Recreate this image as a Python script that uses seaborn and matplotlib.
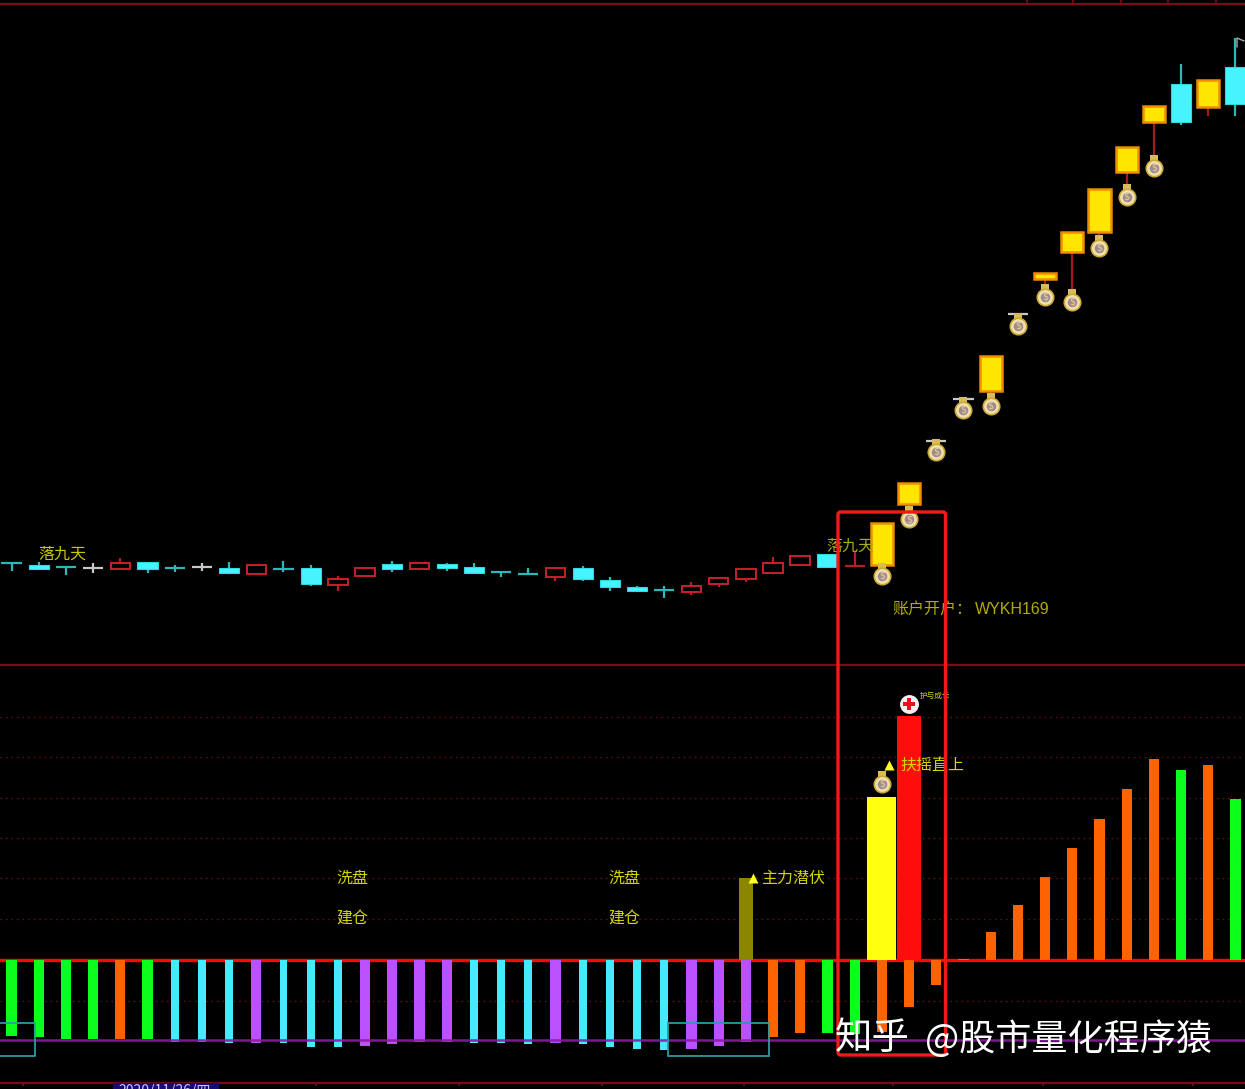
import matplotlib
matplotlib.use("Agg")

import matplotlib.pyplot as plt
import numpy as np
import pandas as pd
import seaborn as sns
from matplotlib.patches import FancyBboxPatch, Rectangle

# Candles, one per day
idx = list(range(46))
body_top = [102.3, 100.3, 98.3, 96.7, 101.7, 102.7, 96.7, 98.3, 97, 99.7, 96, 97, 86, 97, 101.3, 101.7,
            101, 98.3, 92.7, 91.3, 97, 97, 84.7, 78, 75, 79.3, 87.3, 95.7, 102.3, 109, 111, 99,
            141.7, 182.3, 224.3, 266.3, 309, 351, 392, 433, 476, 518, 558.7, 581, 584.7, 598.3]
body_bot = [102.3, 95.7, 98.3, 96.7, 96, 95.7, 96.7, 98.3, 92, 90.7, 96, 81, 80, 89.3, 96, 96,
            97, 91.7, 92.7, 91.3, 87.7, 86.3, 78, 74.3, 75, 72.7, 81, 86, 92, 100.3, 98.3, 99,
            100, 161, 224.3, 266.3, 274, 351, 385.7, 412.7, 433.3, 493, 543, 543, 558, 560.7]
high = [102.3, 103, 98.3, 101.7, 106.7, 102.7, 100, 102.3, 102.7, 99.7, 104.3, 100, 89, 98, 104, 101.7,
        102, 101.7, 94, 96.7, 97, 99, 88.3, 79, 79, 83.3, 87.3, 95.7, 108.3, 109, 111, 113.3,
        141.7, 182.3, 224.3, 266.3, 309, 351, 392, 433, 476, 518, 558.7, 601, 584.7, 627.3]
low = [94.3, 95, 90.3, 91.7, 96, 91.7, 93.5, 94.3, 92, 90.7, 93, 79.3, 74, 89.3, 93.3, 96,
       94.3, 91.7, 87.7, 90, 84, 84, 74, 74.3, 67, 70, 78.3, 83.3, 92, 100.3, 97, 99,
       97, 157, 220, 262, 272, 347, 380, 375, 430, 481, 510, 540, 549.3, 549.3]
candle_kind = ["cyan", "cyan", "cyan", "white", "red", "cyan", "cyan", "white", "cyan", "red", "cyan", "cyan",
               "red", "red", "cyan", "red", "cyan", "cyan", "cyan", "cyan", "red", "cyan", "cyan", "cyan",
               "cyan", "red", "red", "red", "red", "red", "cyan", "red", "gold", "gold", "white", "white",
               "gold", "white", "gold", "gold", "gold", "gold", "gold", "cyan", "gold", "cyan"]

# Money bags on the candles
bag_i = [32, 33, 34, 35, 36, 37, 38, 39, 40, 41, 42]
bag_y = [89, 146, 213.3, 255, 259.3, 339, 368.3, 363, 417, 468.3, 497]

# Lower panel
down_values = [-76, -77.3, -79, -79, -79, -79, -81.7, -81.7, -83.3, -83.3, -83.3, -87, -87, -85.7, -84.3,
               -81.7, -81.7, -83.3, -83.3, -84.3, -83.3, -84.3, -87, -89.3, -89.7, -88.7, -85.7, -81.7,
               -77.3, -73.3, -73.3, -74, -72, -46.7, -25]
down_kind = ["green", "green", "green", "green", "orange", "green", "cyan", "cyan", "cyan", "purple", "cyan",
             "cyan", "cyan", "purple", "purple", "purple", "purple", "cyan", "cyan", "cyan", "purple", "cyan",
             "cyan", "cyan", "cyan", "purple", "purple", "purple", "orange", "orange", "green", "green",
             "orange", "orange", "orange"]
up_i = [27, 32, 33, 35, 36, 37, 38, 39, 40, 41, 42, 43, 44, 45]
up_values = [82, 163, 244, 1.5, 28, 55, 83.3, 112.3, 140.7, 170.7, 200.7, 189.7, 195, 161]
up_kind = ["olive", "yellow", "red", "orange", "orange", "orange", "orange", "orange", "orange", "orange",
           "orange", "green", "orange", "green"]
grid_levels = [243.3, 203, 162.3, 122.3, 82, 41.3, -40.7]
purple_level = -80

bar_colors = {"green": "#0cff1c", "orange": "#ff6200", "cyan": "#46eaff", "purple": "#ba50ff",
              "olive": "#8a8600", "yellow": "#ffff10", "red": "#ff0c0c"}
bar_widths = {"green": 0.37, "orange": 0.37, "cyan": 0.28, "purple": 0.37,
              "olive": 0.52, "yellow": 1.07, "red": 0.86}
candle_wick = {"cyan": "#2ab8b8", "white": "#c8c8c8", "red": "#b81c28", "gold": "#a81818"}

sns.set_theme(style="white", rc={"figure.facecolor": "black", "axes.facecolor": "black"})
cjk = ["Noto Sans CJK SC", "DejaVu Sans"]
plt.rcParams["font.family"] = cjk

W, H = 1245, 1089
XLIM = (-0.423, 45.35)
fig = plt.figure(figsize=(W / 100, H / 100), dpi=100)
ax_low = fig.add_axes([0, 0, 1, 424 / H])
ax_top = fig.add_axes([0, 424 / H, 1, 665 / H])
over = fig.add_axes([0, 0, 1, 1])
over.patch.set_alpha(0)


def draw_bag(ax, x, y):
    ax.scatter([x], [y + 9], s=30, marker="s", color="#d8bc58", zorder=6, linewidths=0)
    ax.scatter([x], [y], s=140, color="#efe3ad", edgecolors="#cda838", linewidths=1.2, zorder=7)
    ax.scatter([x], [y], s=48, color="#a08a90", linewidths=0, zorder=8)
    ax.text(x, y, r"\$", color="#e8d090", fontsize=7, ha="center", va="center", zorder=9, family="DejaVu Sans")


# Upper panel
for i in idx:
    k = candle_kind[i]
    ax_top.vlines(i, low[i], high[i], color=candle_wick[k], lw=1.6, zorder=2)
    if body_top[i] == body_bot[i]:
        col = candle_wick[k]
        ax_top.hlines(body_top[i], i - 0.37, i + 0.37, color=col, lw=1.6, zorder=3)
    elif k == "red":
        ax_top.bar(i, body_top[i] - body_bot[i], bottom=body_bot[i], width=0.72, color="black",
                   edgecolor="#c8202c", linewidth=1.4, zorder=3)
    elif k == "cyan":
        ax_top.bar(i, body_top[i] - body_bot[i], bottom=body_bot[i], width=0.74, color="#46f4ff",
                   edgecolor="#30d8e0", linewidth=0.8, zorder=3)
    else:
        ax_top.bar(i, body_top[i] - body_bot[i], bottom=body_bot[i], width=0.82, color="#ffe600",
                   edgecolor="#f08c00", linewidth=1.8, zorder=3)

for i, y in zip(bag_i, bag_y):
    draw_bag(ax_top, i, y)

ax_top.set_xlim(*XLIM)
ax_top.set_ylim(0, 665)
ax_top.set_axis_off()

# Lower panel
down = pd.DataFrame({"i": idx[:len(down_values)], "value": down_values, "kind": down_kind})
up = pd.DataFrame({"i": up_i, "value": up_values, "kind": up_kind})

for lev in grid_levels:
    ax_low.axhline(lev, color="#6a1414", lw=1, ls=(0, (1, 3)), zorder=0)
ax_low.axhline(0, color="#f40a0a", lw=2.4, zorder=1)

for df in [down, up]:
    for kind, part in df.groupby("kind"):
        sns.barplot(data=part, x="i", y="value", order=idx, color=bar_colors[kind], width=bar_widths[kind],
                    saturation=1, errorbar=None, linewidth=0, ax=ax_low, zorder=2)

ax_low.axhline(purple_level, color="#8c1ca0", lw=1.8, alpha=0.9, zorder=3)
draw_bag(ax_low, 32, 176)
ax_low.set_xlim(*XLIM)
ax_low.set_ylim(-129, 295)
ax_low.set_axis_off()

# Overlay in picture coordinates: frame lines, labels, red box, watermark
over.set_xlim(0, W)
over.set_ylim(H, 0)
over.set_axis_off()

line_col = "#7c0c16"
over.hlines([3.5, 665, 1083], 0, W, color=line_col, lw=1.6, zorder=1)
over.vlines([1027, 1073, 1121, 1168, 1216], 0, 3.5, color=line_col, lw=1.2, zorder=1)
over.vlines([23, 316, 459, 602, 744, 893, 1043, 1193], 1083, 1086, color=line_col, lw=1.2, zorder=1)

over.add_patch(Rectangle((113, 1083), 105, 8, color="#1a0a78", zorder=2))
over.text(165, 1083.5, "2020/11/26/四", color="#c8c8f0", fontsize=10, ha="center", va="top", zorder=3)

# teal boxes at the bottom
over.plot([0, 35, 35, 0], [1023, 1023, 1056, 1056], color="#2a9ca4", lw=1.3, zorder=4)
over.add_patch(Rectangle((667.5, 1023), 101.5, 33, fill=False, edgecolor="#2a9ca4", lw=1.3, zorder=4))

txt = "#d4d400"
over.text(62, 554, "落九天", color="#c8c800", fontsize=11.5, ha="center", va="center", zorder=4)
over.text(850, 546, "落九天", color="#a4ac14", fontsize=11.5, ha="center", va="center", zorder=1)
over.text(892, 609, "账户开户：", color="#b4ac00", fontsize=11.5, ha="left", va="center", zorder=4)
over.text(975, 609, "WYKH169", color="#b4ac00", fontsize=11.5, ha="left", va="center", zorder=4,
          family=["Liberation Sans"])
for x0 in [336, 608]:
    over.text(x0, 878.5, "洗盘", color=txt, fontsize=11.5, ha="left", va="center", zorder=4)
    over.text(x0, 919, "建仓", color=txt, fontsize=11.5, ha="left", va="center", zorder=4)
over.text(761, 878.5, "主力潜伏", color=txt, fontsize=11.5, ha="left", va="center", zorder=4)
over.text(900, 765.5, "扶摇直上", color=txt, fontsize=11.5, ha="left", va="center", zorder=4)
over.text(920, 696, "护与成长", color="#d8d820", fontsize=5.5, ha="left", va="center", zorder=4)
over.scatter([753, 889], [878, 765], s=52, marker="^", color="#ffff20", linewidths=0, zorder=5)

over.scatter([909], [703.5], s=185, color="#f4f0f0", linewidths=0, zorder=5)
over.scatter([909], [703.5], s=70, marker="P", color="#e8101c", linewidths=0, zorder=6)
over.plot([1237, 1237, 1244], [47, 38, 41], color="#a8a8a8", lw=1, zorder=5)

over.add_patch(FancyBboxPatch((838, 512), 107.5, 543, boxstyle="round,pad=0,rounding_size=2.5",
                              fill=False, edgecolor="#ee1c14", lw=2.4, zorder=5))

over.text(835, 1039, "知乎", color="white", fontsize=27, ha="left", va="center", zorder=10)
over.text(925, 1039, "@股市量化程序猿", color="white", fontsize=26, ha="left", va="center", zorder=10)

fig.savefig("out.png", dpi=100, facecolor="black")
